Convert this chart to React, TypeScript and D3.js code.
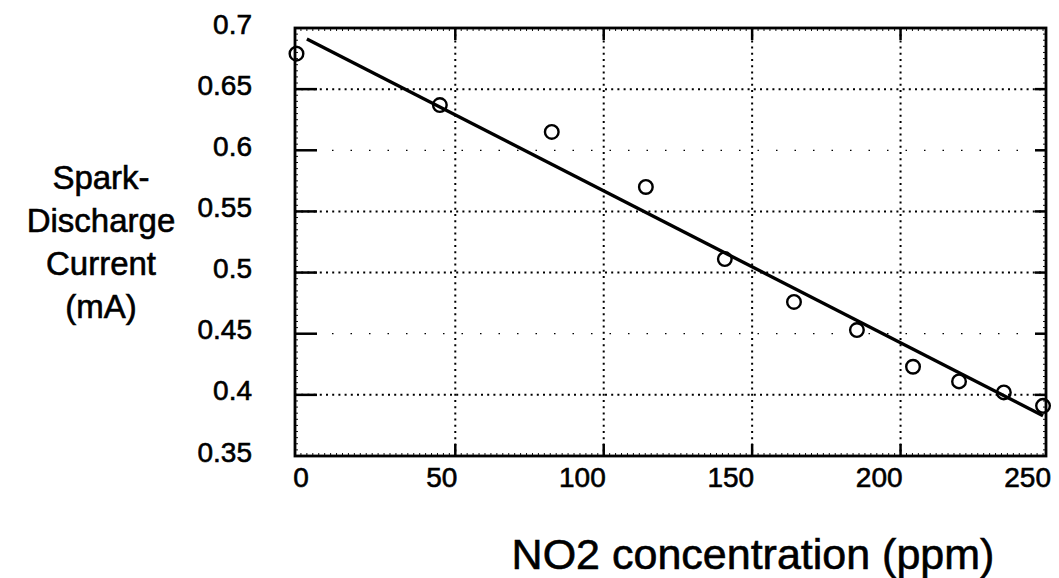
import * as d3 from "d3";
import { useEffect, useRef } from "react";

// NO2 concentration (ppm) vs spark-discharge current (mA)
const concentration = [-3.5, 44.8, 82.5, 114.2, 140.8, 164.1, 185.3, 204.2, 219.7, 234.8, 248];
const current = [0.679, 0.637, 0.615, 0.57, 0.511, 0.476, 0.453, 0.423, 0.411, 0.402, 0.391];

// linear fit drawn over the data
const fitX = [0, 248];
const fitY = [0.691, 0.383];

const xTicks = [0, 50, 100, 150, 200, 250];
const yTicks = [0.35, 0.4, 0.45, 0.5, 0.55, 0.6, 0.65, 0.7];
const yLabelLines = ["Spark-", "Discharge", "Current", "(mA)"];

export default function App() {
  const svgRef = useRef<SVGSVGElement | null>(null);

  useEffect(() => {
    if (!svgRef.current) return;
    const svg = d3.select(svgRef.current);
    svg.selectAll("*").remove();

    const width = 1059;
    const height = 578;
    const margin = { top: 28, right: 13, bottom: 122, left: 295 };
    const font = "'Liberation Sans', Arial, Helvetica, sans-serif";

    const x = d3
      .scaleLinear()
      .domain([-4, 249])
      .range([margin.left, width - margin.right]);
    const y = d3
      .scaleLinear()
      .domain([0.35, 0.7])
      .range([height - margin.bottom, margin.top]);

    const [x0, x1] = x.range();
    const [y0, y1] = y.range(); // y0 bottom, y1 top

    // Dotted grid
    const grid = svg.append("g");
    grid
      .selectAll("line.v")
      .data(xTicks.filter((d) => d > 0 && d < 250))
      .join("line")
      .attr("x1", (d) => x(d))
      .attr("x2", (d) => x(d))
      .attr("y1", y1)
      .attr("y2", y0)
      .attr("stroke", "#000")
      .attr("stroke-width", 2)
      .attr("stroke-dasharray", "2,4.2");
    grid
      .selectAll("line.h")
      .data(yTicks.filter((d) => d > 0.35 && d < 0.7))
      .join("line")
      .attr("x1", x0)
      .attr("x2", x1)
      .attr("y1", (d) => y(d))
      .attr("y2", (d) => y(d))
      .attr("stroke", "#000")
      .attr("stroke-width", (d) => (d === 0.6 || d === 0.45 ? 1.3 : 2))
      .attr("stroke-dasharray", (d) =>
        d === 0.6 || d === 0.45 ? "1.5,17" : "2,4.2",
      );

    // Minor ticks along the frame
    const minor = svg.append("g").attr("stroke", "#111").attr("stroke-width", 1);
    const xMinor = d3.range(-4, 249, 2);
    const yMinor = d3.range(0.35, 0.7, 0.005);
    minor
      .selectAll("line.xb")
      .data(xMinor)
      .join("line")
      .attr("x1", (d) => x(d))
      .attr("x2", (d) => x(d))
      .attr("y1", y0)
      .attr("y2", y0 - 3);
    minor
      .selectAll("line.xt")
      .data(xMinor)
      .join("line")
      .attr("x1", (d) => x(d))
      .attr("x2", (d) => x(d))
      .attr("y1", y1)
      .attr("y2", y1 + 3);
    minor
      .selectAll("line.yl")
      .data(yMinor)
      .join("line")
      .attr("x1", x0)
      .attr("x2", x0 + 3)
      .attr("y1", (d) => y(d))
      .attr("y2", (d) => y(d));
    minor
      .selectAll("line.yr")
      .data(yMinor)
      .join("line")
      .attr("x1", x1)
      .attr("x2", x1 - 3)
      .attr("y1", (d) => y(d))
      .attr("y2", (d) => y(d));

    // Major ticks (inside)
    const major = svg.append("g").attr("stroke", "#000").attr("stroke-width", 2.5);
    const xMajor = xTicks.filter((d) => d > 0 && d < 250);
    const yMajor = yTicks.filter((d) => d > 0.35 && d < 0.7);
    major
      .selectAll("line.xb")
      .data(xMajor)
      .join("line")
      .attr("x1", (d) => x(d))
      .attr("x2", (d) => x(d))
      .attr("y1", y0)
      .attr("y2", y0 - 12);
    major
      .selectAll("line.xt")
      .data(xMajor)
      .join("line")
      .attr("x1", (d) => x(d))
      .attr("x2", (d) => x(d))
      .attr("y1", y1)
      .attr("y2", y1 + 12);
    major
      .selectAll("line.yl")
      .data(yMajor)
      .join("line")
      .attr("x1", x0)
      .attr("x2", x0 + 22)
      .attr("y1", (d) => y(d))
      .attr("y2", (d) => y(d));
    major
      .selectAll("line.yr")
      .data(yMajor)
      .join("line")
      .attr("x1", x1)
      .attr("x2", x1 - 11)
      .attr("y1", (d) => y(d))
      .attr("y2", (d) => y(d));

    // Frame
    svg
      .append("rect")
      .attr("x", x0)
      .attr("y", y1)
      .attr("width", x1 - x0)
      .attr("height", y0 - y1)
      .attr("fill", "none")
      .attr("stroke", "#000")
      .attr("stroke-width", 2.8);

    // Fit line
    const line = d3
      .line<number>()
      .x((d) => x(d))
      .y((_, i) => y(fitY[i]));
    svg
      .append("path")
      .attr("d", line(fitX))
      .attr("fill", "none")
      .attr("stroke", "#000")
      .attr("stroke-width", 3.4);

    // Data points
    svg
      .append("g")
      .selectAll("circle")
      .data(concentration)
      .join("circle")
      .attr("cx", (d) => x(d))
      .attr("cy", (_, i) => y(current[i]))
      .attr("r", 6.8)
      .attr("fill", "none")
      .attr("stroke", "#000")
      .attr("stroke-width", 2.4);

    // Tick labels (slight stroke to match the heavy print)
    svg
      .append("g")
      .selectAll("text")
      .data(xTicks)
      .join("text")
      .attr("x", (d) => x(d) + 2)
      .attr("y", 487)
      .attr("text-anchor", "end")
      .attr("stroke", "#000")
      .attr("stroke-width", 0.6)
      .style("font-family", font)
      .style("font-size", "28px")
      .text((d) => String(d));
    svg
      .append("g")
      .selectAll("text")
      .data(yTicks)
      .join("text")
      .attr("x", 252)
      .attr("y", (d) => y(d) + 5.5)
      .attr("text-anchor", "end")
      .attr("stroke", "#000")
      .attr("stroke-width", 0.6)
      .style("font-family", font)
      .style("font-size", "28px")
      .text((d) => String(d));

    // Axis titles
    svg
      .append("text")
      .attr("x", 753)
      .attr("y", 569)
      .attr("text-anchor", "middle")
      .attr("stroke", "#000")
      .attr("stroke-width", 0.6)
      .style("font-family", font)
      .style("font-size", "43px")
      .text("NO2 concentration (ppm)");
    svg
      .append("g")
      .selectAll("text")
      .data(yLabelLines)
      .join("text")
      .attr("x", 101)
      .attr("y", (_, i) => 189 + i * 43)
      .attr("text-anchor", "middle")
      .attr("stroke", "#000")
      .attr("stroke-width", 0.6)
      .style("font-family", font)
      .style("font-size", "33px")
      .text((d) => d);

    svg.attr("width", width).attr("height", height).attr("viewBox", `0 0 ${width} ${height}`);
  }, []);

  return (
    <svg
      ref={svgRef}
      style={{ position: "absolute", left: 0, top: 0, background: "#fff" }}
    ></svg>
  );
}
